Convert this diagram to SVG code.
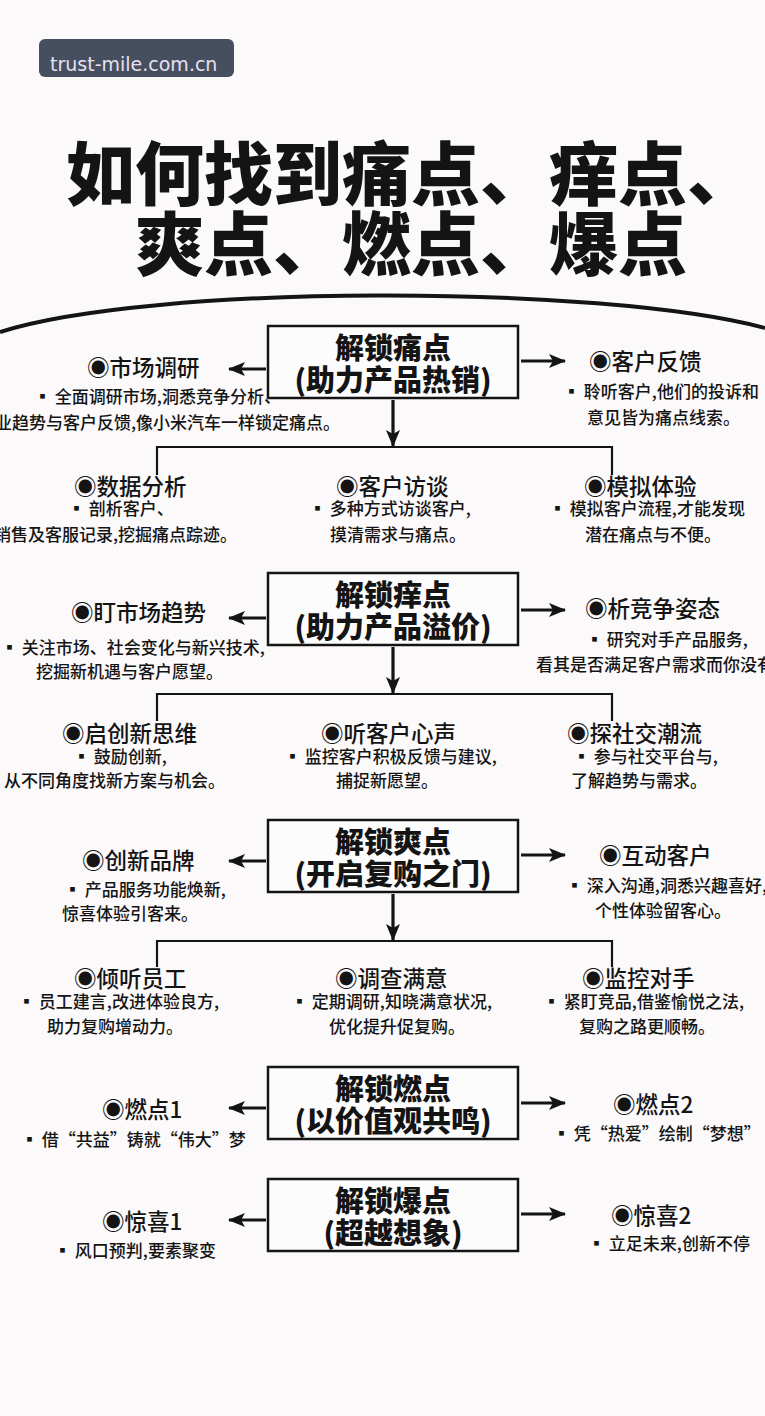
<svg xmlns="http://www.w3.org/2000/svg" width="765" height="1416" viewBox="0 0 765 1416">
<defs>
<style>
text{font-family:"Noto Sans CJK SC","Noto Sans",sans-serif;fill:#141414}
.title{font-size:69px;font-weight:900}
.bt{font-size:29px;font-weight:900;text-anchor:middle}
.nt{font-size:22.5px;font-weight:500}
.bd{font-size:17px;font-weight:500}
.box{fill:#fdfcfd;stroke:#141414;stroke-width:2.5}
.arr{stroke:#141414;stroke-width:3.2;fill:none}
.ln{stroke:#141414;stroke-width:2.2;fill:none}
</style>
<marker id="ah" markerUnits="userSpaceOnUse" markerWidth="18" markerHeight="14" refX="16" refY="7" orient="auto">
<path d="M0,0 L17,7 L0,14 L4,7 z" fill="#141414"/>
</marker>
</defs>
<rect width="765" height="1416" fill="#fbf9fa"/>
<g id="watermark">
<rect x="39" y="39" width="195" height="38" rx="6" fill="#464f5f"/>
<text x="50" y="71" style="font-family:'DejaVu Sans','Noto Sans',sans-serif;font-size:19px;fill:#e6e0f0">trust-mile.com.cn</text>
</g>
<g id="title">
<text class="title" x="66" y="200">如何找到痛点、痒点、</text>
<text class="title" x="135" y="270">爽点、燃点、爆点</text>
</g>
<path d="M0,332 C150,284 600,284 765,328" stroke="#141414" stroke-width="4" fill="none"/>
<g id="connectors">
<line class="arr" x1="266" y1="369" x2="229" y2="369" marker-end="url(#ah)"/>
<line class="arr" x1="521" y1="361" x2="565" y2="361" marker-end="url(#ah)"/>
<line class="arr" x1="393" y1="400" x2="393" y2="446" marker-end="url(#ah)"/>
<path class="ln" d="M157,475 V447 H612 V475"/>
<line class="arr" x1="266" y1="618" x2="229" y2="618" marker-end="url(#ah)"/>
<line class="arr" x1="521" y1="610" x2="565" y2="610" marker-end="url(#ah)"/>
<line class="arr" x1="393" y1="647" x2="393" y2="693" marker-end="url(#ah)"/>
<path class="ln" d="M157,721 V694 H612 V721"/>
<line class="arr" x1="266" y1="861" x2="229" y2="861" marker-end="url(#ah)"/>
<line class="arr" x1="521" y1="855" x2="565" y2="855" marker-end="url(#ah)"/>
<line class="arr" x1="393" y1="894" x2="393" y2="940" marker-end="url(#ah)"/>
<path class="ln" d="M157,967 V941 H612 V967"/>
<line class="arr" x1="266" y1="1108" x2="229" y2="1108" marker-end="url(#ah)"/>
<line class="arr" x1="521" y1="1103" x2="565" y2="1103" marker-end="url(#ah)"/>
<line class="arr" x1="266" y1="1220" x2="229" y2="1220" marker-end="url(#ah)"/>
<line class="arr" x1="521" y1="1214" x2="565" y2="1214" marker-end="url(#ah)"/>
</g>
<g id="box1">
<rect class="box" x="268" y="326" width="250" height="72"/>
<text class="bt" x="393" y="359">解锁痛点</text>
<text class="bt" x="393" y="391">(助力产品热销)</text>
</g>
<g id="n-market">
<text class="nt" x="87" y="376">◉市场调研</text>
<text class="bd" x="34" y="403">▪ 全面调研市场,洞悉竞争分析、</text>
<text class="bd" x="-5" y="429">业趋势与客户反馈,像小米汽车一样锁定痛点。</text>
</g>
<g id="n-feedback">
<text class="nt" x="589" y="370">◉客户反馈</text>
<text class="bd" x="563" y="398">▪ 聆听客户,他们的投诉和</text>
<text class="bd" x="587" y="424">意见皆为痛点线索。</text>
</g>
<g id="n-data">
<text class="nt" x="74" y="495">◉数据分析</text>
<text class="bd" x="68" y="515">▪ 剖析客户、</text>
<text class="bd" x="-6" y="541">销售及客服记录,挖掘痛点踪迹。</text>
</g>
<g id="n-interview">
<text class="nt" x="336" y="495">◉客户访谈</text>
<text class="bd" x="309" y="515">▪ 多种方式访谈客户,</text>
<text class="bd" x="330" y="541">摸清需求与痛点。</text>
</g>
<g id="n-simulate">
<text class="nt" x="584" y="495">◉模拟体验</text>
<text class="bd" x="549" y="515">▪ 模拟客户流程,才能发现</text>
<text class="bd" x="585" y="541">潜在痛点与不便。</text>
</g>
<g id="box2">
<rect class="box" x="268" y="573" width="250" height="72"/>
<text class="bt" x="393" y="606">解锁痒点</text>
<text class="bt" x="393" y="638">(助力产品溢价)</text>
</g>
<g id="n-trend">
<text class="nt" x="71" y="621">◉盯市场趋势</text>
<text class="bd" x="1" y="654">▪ 关注市场、社会变化与新兴技术,</text>
<text class="bd" x="36" y="678">挖掘新机遇与客户愿望。</text>
</g>
<g id="n-compete">
<text class="nt" x="585" y="617">◉析竞争姿态</text>
<text class="bd" x="586" y="646">▪ 研究对手产品服务,</text>
<text class="bd" x="536" y="671">看其是否满足客户需求而你没有</text>
</g>
<g id="n-innovate">
<text class="nt" x="62" y="742">◉启创新思维</text>
<text class="bd" x="73" y="763">▪ 鼓励创新,</text>
<text class="bd" x="4" y="787">从不同角度找新方案与机会。</text>
</g>
<g id="n-voice">
<text class="nt" x="321" y="742">◉听客户心声</text>
<text class="bd" x="284" y="763">▪ 监控客户积极反馈与建议,</text>
<text class="bd" x="336" y="787">捕捉新愿望。</text>
</g>
<g id="n-social">
<text class="nt" x="567" y="742">◉探社交潮流</text>
<text class="bd" x="573" y="763">▪ 参与社交平台与,</text>
<text class="bd" x="571" y="787">了解趋势与需求。</text>
</g>
<g id="box3">
<rect class="box" x="268" y="820" width="250" height="72"/>
<text class="bt" x="393" y="853">解锁爽点</text>
<text class="bt" x="393" y="885">(开启复购之门)</text>
</g>
<g id="n-brand">
<text class="nt" x="82" y="869">◉创新品牌</text>
<text class="bd" x="64" y="896">▪ 产品服务功能焕新,</text>
<text class="bd" x="62" y="920">惊喜体验引客来。</text>
</g>
<g id="n-interact">
<text class="nt" x="599" y="864">◉互动客户</text>
<text class="bd" x="566" y="892">▪ 深入沟通,洞悉兴趣喜好,</text>
<text class="bd" x="595" y="917">个性体验留客心。</text>
</g>
<g id="n-staff">
<text class="nt" x="74" y="987">◉倾听员工</text>
<text class="bd" x="18" y="1008">▪ 员工建言,改进体验良方,</text>
<text class="bd" x="47" y="1033">助力复购增动力。</text>
</g>
<g id="n-survey">
<text class="nt" x="335" y="987">◉调查满意</text>
<text class="bd" x="291" y="1008">▪ 定期调研,知晓满意状况,</text>
<text class="bd" x="329" y="1033">优化提升促复购。</text>
</g>
<g id="n-monitor">
<text class="nt" x="582" y="987">◉监控对手</text>
<text class="bd" x="543" y="1008">▪ 紧盯竞品,借鉴愉悦之法,</text>
<text class="bd" x="579" y="1033">复购之路更顺畅。</text>
</g>
<g id="box4">
<rect class="box" x="268" y="1067" width="250" height="72"/>
<text class="bt" x="393" y="1100">解锁燃点</text>
<text class="bt" x="393" y="1132">(以价值观共鸣)</text>
</g>
<g id="n-burn1">
<text class="nt" x="102" y="1118">◉燃点1</text>
<text class="bd" x="21" y="1146">▪ 借“共益”铸就“伟大”梦</text>
</g>
<g id="n-burn2">
<text class="nt" x="613" y="1113">◉燃点2</text>
<text class="bd" x="553" y="1140">▪ 凭“热爱”绘制“梦想”</text>
</g>
<g id="box5">
<rect class="box" x="268" y="1179" width="250" height="72"/>
<text class="bt" x="393" y="1212">解锁爆点</text>
<text class="bt" x="393" y="1244">(超越想象)</text>
</g>
<g id="n-wow1">
<text class="nt" x="102" y="1230">◉惊喜1</text>
<text class="bd" x="54" y="1257">▪ 风口预判,要素聚变</text>
</g>
<g id="n-wow2">
<text class="nt" x="611" y="1224">◉惊喜2</text>
<text class="bd" x="588" y="1250">▪ 立足未来,创新不停</text>
</g>
</svg>
